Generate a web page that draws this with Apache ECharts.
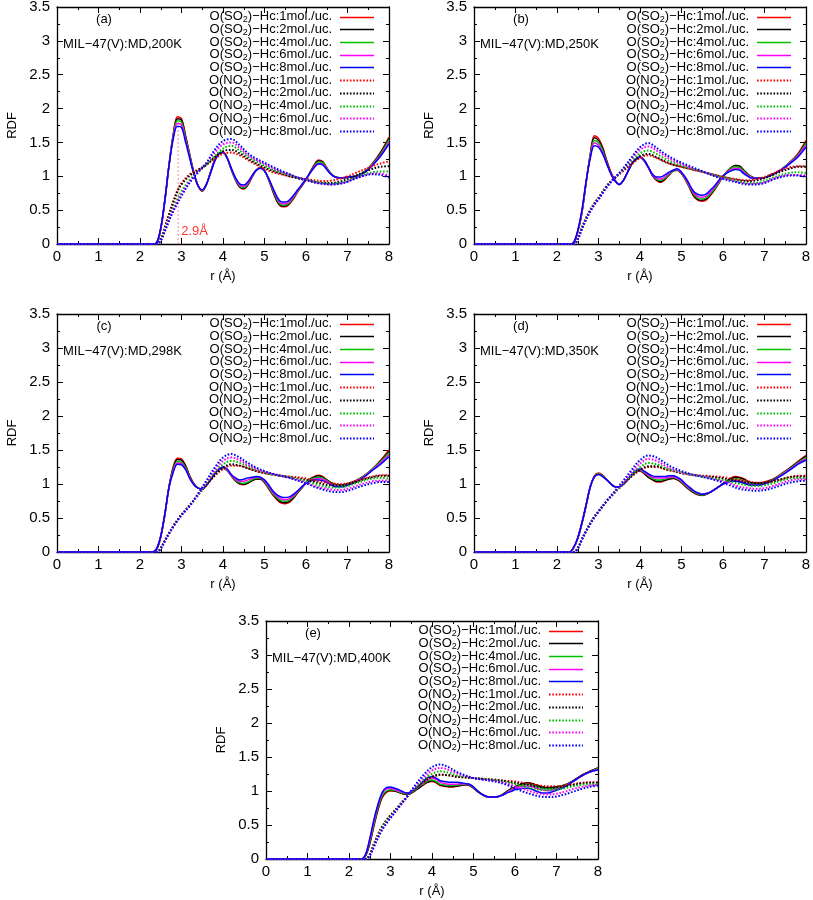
<!DOCTYPE html>
<html><head><meta charset="utf-8">
<script src="https://cdn.jsdelivr.net/npm/echarts/dist/echarts.min.js"></script>
<style>html,body{margin:0;padding:0;background:#fff}#c{width:813px;height:900px}</style>
</head><body><div id="c"></div>
<script>
// ---------- axis setup ----------
const xMin = 0, xMax = 8, xStep = 1;
const yMin = 0, yMax = 3.5, yStep = 0.5;
// ---------- r grids (Å) ----------
const rSolid = [0,2.3,2.4,2.5,2.6,2.7,2.8,2.9,3.0,3.1,3.2,3.3,3.4,3.5,3.6,3.7,3.8,3.9,4.0,4.1,4.2,4.3,4.4,4.5,4.6,4.7,4.8,4.9,5.0,5.1,5.2,5.3,5.4,5.5,5.6,5.7,5.8,5.9,6.0,6.1,6.2,6.3,6.4,6.5,6.6,6.7,6.8,6.9,7.0,7.2,7.4,7.6,7.8,8.0];
const rDotted = [0,2.4,2.5,2.6,2.7,2.8,2.9,3.0,3.2,3.4,3.6,3.8,4.0,4.2,4.4,4.6,4.8,5.0,5.2,5.4,5.6,5.8,6.0,6.2,6.4,6.6,6.8,7.0,7.2,7.4,7.6,7.8,8.0];
const loadings = ['1','2','4','6','8'];
const lineColors = ['#ff0000','#000000','#00c000','#ff00ff','#0000ff'];
const panelTags = ['(a)','(b)','(c)','(d)','(e)'];
const panelTitles = ['MIL\u221247(V):MD,200K','MIL\u221247(V):MD,250K','MIL\u221247(V):MD,298K','MIL\u221247(V):MD,350K','MIL\u221247(V):MD,400K'];
// ---------- (a) 200K ----------
const a_SO2_1 = [0,0,0.01,0.22,0.64,1.17,1.62,1.88,1.85,1.6,1.32,1.05,0.86,0.78,0.88,1.06,1.24,1.34,1.35,1.27,1.1,0.95,0.84,0.81,0.87,0.99,1.09,1.13,1.08,0.95,0.78,0.63,0.555,0.55,0.59,0.67,0.77,0.86,0.95,1.06,1.17,1.24,1.22,1.13,1.04,0.99,0.98,0.98,0.985,1.0,1.06,1.19,1.36,1.58];
const a_SO2_2 = [0,0,0.01,0.22,0.64,1.17,1.6,1.85,1.83,1.58,1.31,1.05,0.86,0.785,0.88,1.06,1.24,1.34,1.355,1.27,1.1,0.95,0.845,0.82,0.88,0.99,1.09,1.13,1.08,0.95,0.79,0.64,0.565,0.56,0.6,0.68,0.78,0.86,0.95,1.06,1.16,1.23,1.21,1.12,1.04,0.99,0.98,0.98,0.985,1.0,1.06,1.18,1.35,1.56];
const a_SO2_4 = [0,0,0.01,0.23,0.65,1.17,1.59,1.82,1.8,1.56,1.3,1.04,0.86,0.79,0.88,1.06,1.23,1.34,1.355,1.27,1.11,0.96,0.855,0.83,0.89,1.0,1.09,1.125,1.08,0.96,0.8,0.66,0.58,0.575,0.61,0.69,0.78,0.87,0.955,1.055,1.15,1.21,1.2,1.12,1.04,0.99,0.98,0.98,0.985,1.0,1.06,1.18,1.33,1.54];
const a_SO2_6 = [0,0,0.02,0.23,0.65,1.16,1.57,1.78,1.76,1.53,1.28,1.04,0.86,0.795,0.88,1.05,1.23,1.33,1.35,1.27,1.11,0.97,0.87,0.85,0.9,1.0,1.09,1.12,1.08,0.96,0.82,0.68,0.6,0.595,0.63,0.7,0.79,0.87,0.955,1.05,1.14,1.19,1.18,1.11,1.03,0.99,0.98,0.98,0.99,1.0,1.05,1.17,1.31,1.51];
const a_SO2_8 = [0,0,0.02,0.24,0.66,1.16,1.55,1.74,1.72,1.5,1.26,1.03,0.86,0.8,0.88,1.05,1.22,1.33,1.35,1.27,1.12,0.98,0.89,0.87,0.92,1.01,1.09,1.12,1.08,0.97,0.83,0.7,0.625,0.62,0.65,0.72,0.8,0.88,0.96,1.05,1.13,1.18,1.17,1.1,1.03,0.99,0.98,0.98,0.99,1.0,1.05,1.16,1.3,1.48];
const a_NO2_1 = [0,0,0.07,0.25,0.45,0.63,0.79,0.9,1.03,1.1,1.17,1.26,1.33,1.35,1.31,1.24,1.17,1.11,1.06,1.03,1.0,0.98,0.96,0.94,0.93,0.935,0.96,1.0,1.05,1.1,1.15,1.19,1.22];
const a_NO2_2 = [0,0,0.07,0.24,0.43,0.61,0.77,0.88,1.01,1.09,1.17,1.28,1.37,1.39,1.34,1.26,1.19,1.13,1.08,1.04,1.0,0.97,0.94,0.92,0.9,0.9,0.92,0.96,1.01,1.06,1.11,1.14,1.15];
const a_NO2_4 = [0,0,0.06,0.21,0.38,0.54,0.67,0.78,0.95,1.06,1.17,1.3,1.41,1.45,1.38,1.29,1.22,1.16,1.1,1.06,1.02,0.98,0.95,0.92,0.9,0.89,0.9,0.93,0.98,1.03,1.06,1.07,1.07];
const a_NO2_6 = [0,0,0.05,0.2,0.36,0.51,0.63,0.74,0.93,1.06,1.19,1.35,1.47,1.5,1.42,1.31,1.24,1.18,1.12,1.07,1.03,0.98,0.95,0.91,0.89,0.88,0.89,0.92,0.97,1.01,1.04,1.04,1.01];
const a_NO2_8 = [0,0,0.05,0.19,0.34,0.48,0.6,0.71,0.91,1.06,1.2,1.39,1.52,1.55,1.46,1.34,1.26,1.2,1.14,1.08,1.03,0.98,0.95,0.91,0.89,0.88,0.89,0.92,0.97,1.01,1.03,1.02,0.98];
// ---------- (b) 250K ----------
const b_SO2_1 = [0,0,0.02,0.18,0.46,0.9,1.32,1.6,1.56,1.43,1.23,1.06,0.94,0.88,0.94,1.06,1.18,1.25,1.28,1.23,1.13,1.01,0.94,0.91,0.95,1.02,1.08,1.09,1.04,0.94,0.82,0.7,0.645,0.63,0.65,0.72,0.8,0.9,1.0,1.07,1.13,1.16,1.15,1.09,1.03,0.99,0.97,0.97,0.98,1.03,1.1,1.2,1.33,1.53];
const b_SO2_2 = [0,0,0.02,0.18,0.46,0.9,1.31,1.57,1.53,1.41,1.22,1.05,0.94,0.88,0.94,1.06,1.18,1.25,1.28,1.23,1.13,1.01,0.945,0.92,0.96,1.02,1.08,1.09,1.04,0.95,0.83,0.71,0.655,0.645,0.665,0.73,0.81,0.9,1.0,1.07,1.13,1.16,1.15,1.09,1.03,0.99,0.97,0.97,0.98,1.03,1.1,1.2,1.32,1.51];
const b_SO2_4 = [0,0,0.02,0.19,0.47,0.9,1.3,1.53,1.5,1.38,1.2,1.04,0.93,0.88,0.94,1.06,1.18,1.25,1.28,1.23,1.13,1.02,0.955,0.94,0.97,1.03,1.08,1.095,1.045,0.955,0.84,0.73,0.675,0.665,0.685,0.745,0.82,0.91,1.0,1.065,1.12,1.14,1.13,1.08,1.02,0.985,0.97,0.97,0.98,1.03,1.1,1.2,1.31,1.49];
const b_SO2_6 = [0,0,0.02,0.19,0.48,0.91,1.28,1.49,1.46,1.35,1.19,1.04,0.93,0.88,0.94,1.06,1.18,1.25,1.28,1.23,1.13,1.02,0.97,0.96,0.99,1.04,1.09,1.1,1.05,0.965,0.85,0.75,0.7,0.69,0.71,0.77,0.84,0.92,1.0,1.06,1.1,1.12,1.11,1.06,1.01,0.98,0.97,0.97,0.98,1.03,1.1,1.19,1.3,1.46];
const b_SO2_8 = [0,0,0.02,0.2,0.5,0.92,1.26,1.45,1.43,1.33,1.18,1.03,0.93,0.88,0.94,1.06,1.18,1.25,1.29,1.24,1.14,1.03,0.99,0.99,1.02,1.06,1.09,1.11,1.06,0.98,0.87,0.77,0.73,0.72,0.74,0.8,0.86,0.94,1.0,1.05,1.08,1.1,1.09,1.04,1.0,0.97,0.97,0.97,0.98,1.03,1.09,1.18,1.28,1.43];
const b_NO2_1 = [0,0,0.08,0.24,0.38,0.5,0.6,0.68,0.86,0.98,1.08,1.18,1.27,1.31,1.27,1.21,1.17,1.14,1.11,1.08,1.05,1.02,0.99,0.97,0.95,0.94,0.96,0.99,1.04,1.09,1.13,1.15,1.15];
const b_NO2_2 = [0,0,0.08,0.24,0.38,0.5,0.6,0.68,0.86,0.98,1.09,1.2,1.3,1.33,1.28,1.22,1.17,1.14,1.11,1.08,1.05,1.02,0.99,0.96,0.94,0.93,0.94,0.97,1.02,1.07,1.11,1.14,1.14];
const b_NO2_4 = [0,0,0.07,0.23,0.37,0.49,0.59,0.67,0.85,0.98,1.1,1.23,1.34,1.38,1.33,1.26,1.2,1.16,1.12,1.09,1.05,1.01,0.98,0.95,0.92,0.9,0.9,0.93,0.98,1.02,1.05,1.06,1.05];
const b_NO2_6 = [0,0,0.07,0.22,0.36,0.48,0.58,0.66,0.84,0.98,1.11,1.26,1.39,1.44,1.38,1.3,1.23,1.18,1.13,1.09,1.05,1.01,0.97,0.94,0.91,0.89,0.89,0.91,0.96,1.0,1.02,1.02,1.01];
const b_NO2_8 = [0,0,0.07,0.22,0.36,0.48,0.58,0.66,0.84,0.98,1.12,1.28,1.43,1.49,1.42,1.33,1.26,1.2,1.15,1.1,1.05,1.0,0.96,0.93,0.9,0.88,0.88,0.9,0.95,0.99,1.01,1.01,0.99];
// ---------- (c) 298K ----------
const c_SO2_1 = [0,0,0.04,0.22,0.55,0.97,1.25,1.38,1.37,1.27,1.12,1.0,0.94,0.93,0.98,1.06,1.15,1.21,1.23,1.2,1.12,1.05,1.0,0.99,1.01,1.05,1.07,1.07,1.02,0.93,0.84,0.77,0.72,0.71,0.73,0.79,0.87,0.94,1.02,1.07,1.11,1.13,1.11,1.06,1.02,1.0,0.98,0.98,1.0,1.05,1.12,1.22,1.35,1.5];
const c_SO2_2 = [0,0,0.04,0.22,0.55,0.96,1.23,1.36,1.35,1.26,1.11,1.0,0.94,0.93,0.98,1.06,1.15,1.21,1.23,1.2,1.12,1.05,1.005,0.995,1.015,1.05,1.075,1.075,1.025,0.94,0.85,0.78,0.735,0.725,0.745,0.8,0.875,0.945,1.02,1.07,1.1,1.12,1.1,1.06,1.02,0.995,0.98,0.98,1.0,1.05,1.12,1.22,1.34,1.48];
const c_SO2_4 = [0,0,0.04,0.23,0.56,0.96,1.21,1.33,1.32,1.24,1.1,0.99,0.94,0.93,0.98,1.06,1.15,1.21,1.235,1.2,1.13,1.06,1.02,1.01,1.03,1.065,1.085,1.085,1.035,0.95,0.86,0.8,0.755,0.745,0.765,0.815,0.885,0.95,1.015,1.06,1.09,1.1,1.09,1.05,1.01,0.99,0.975,0.975,0.99,1.04,1.12,1.22,1.33,1.46];
const c_SO2_6 = [0,0,0.05,0.23,0.56,0.95,1.19,1.31,1.3,1.22,1.09,0.99,0.94,0.93,0.98,1.06,1.15,1.21,1.24,1.21,1.13,1.07,1.04,1.04,1.06,1.085,1.1,1.095,1.045,0.97,0.88,0.82,0.78,0.77,0.785,0.83,0.895,0.955,1.01,1.05,1.075,1.08,1.07,1.04,1.0,0.975,0.965,0.965,0.985,1.04,1.11,1.21,1.31,1.43];
const c_SO2_8 = [0,0,0.05,0.24,0.57,0.95,1.17,1.29,1.28,1.21,1.08,0.99,0.94,0.93,0.98,1.06,1.15,1.22,1.25,1.22,1.14,1.09,1.06,1.07,1.09,1.1,1.11,1.1,1.06,0.99,0.9,0.84,0.81,0.8,0.81,0.85,0.9,0.96,1.01,1.04,1.06,1.06,1.05,1.02,0.99,0.96,0.96,0.96,0.98,1.03,1.1,1.2,1.29,1.4];
const c_NO2_1 = [0,0,0.06,0.17,0.28,0.38,0.47,0.55,0.69,0.84,0.99,1.12,1.22,1.27,1.27,1.23,1.19,1.16,1.14,1.12,1.11,1.1,1.08,1.05,1.03,1.01,1.0,1.01,1.04,1.08,1.11,1.13,1.13];
const c_NO2_2 = [0,0,0.06,0.17,0.28,0.38,0.47,0.55,0.69,0.84,0.99,1.13,1.24,1.29,1.27,1.23,1.19,1.16,1.14,1.12,1.1,1.08,1.06,1.03,1.0,0.98,0.98,1.0,1.03,1.07,1.1,1.12,1.12];
const c_NO2_4 = [0,0,0.06,0.16,0.27,0.37,0.46,0.54,0.68,0.84,1.01,1.17,1.29,1.34,1.31,1.26,1.21,1.17,1.14,1.12,1.1,1.07,1.04,1.0,0.97,0.95,0.95,0.97,1.01,1.05,1.08,1.09,1.08];
const c_NO2_6 = [0,0,0.05,0.16,0.27,0.37,0.46,0.54,0.68,0.85,1.03,1.2,1.34,1.39,1.35,1.28,1.22,1.18,1.15,1.12,1.09,1.06,1.02,0.97,0.94,0.92,0.91,0.93,0.97,1.01,1.04,1.05,1.05];
const c_NO2_8 = [0,0,0.05,0.16,0.27,0.37,0.46,0.54,0.68,0.86,1.05,1.24,1.39,1.44,1.39,1.31,1.24,1.19,1.15,1.12,1.09,1.05,1.01,0.96,0.92,0.89,0.88,0.9,0.94,0.98,1.01,1.03,1.03];
// ---------- (d) 350K ----------
const d_SO2_1 = [0,0,0.06,0.2,0.42,0.68,0.95,1.12,1.16,1.13,1.06,1.0,0.96,0.96,1.0,1.06,1.13,1.18,1.19,1.15,1.1,1.06,1.03,1.03,1.05,1.07,1.08,1.06,1.02,0.96,0.91,0.87,0.84,0.83,0.85,0.88,0.92,0.96,1.01,1.05,1.09,1.11,1.1,1.08,1.04,1.02,1.02,1.02,1.03,1.07,1.15,1.23,1.33,1.42];
const d_SO2_2 = [0,0,0.06,0.2,0.42,0.68,0.95,1.11,1.15,1.12,1.06,1.0,0.96,0.96,1.0,1.06,1.13,1.18,1.195,1.16,1.1,1.065,1.04,1.04,1.055,1.075,1.085,1.065,1.025,0.965,0.915,0.875,0.845,0.835,0.85,0.88,0.92,0.96,1.005,1.045,1.08,1.1,1.09,1.07,1.035,1.015,1.01,1.01,1.02,1.065,1.14,1.23,1.32,1.41];
const d_SO2_4 = [0,0,0.06,0.2,0.42,0.68,0.95,1.11,1.15,1.12,1.06,1.0,0.96,0.96,1.0,1.06,1.13,1.185,1.2,1.17,1.12,1.08,1.06,1.06,1.07,1.09,1.095,1.075,1.035,0.975,0.925,0.885,0.855,0.84,0.855,0.885,0.92,0.96,1.0,1.035,1.065,1.08,1.07,1.05,1.02,1.0,0.995,0.995,1.01,1.06,1.14,1.22,1.31,1.39];
const d_SO2_6 = [0,0,0.06,0.21,0.43,0.69,0.95,1.1,1.14,1.11,1.06,1.0,0.96,0.96,1.0,1.06,1.14,1.19,1.21,1.18,1.13,1.1,1.09,1.09,1.09,1.1,1.105,1.085,1.045,0.985,0.935,0.895,0.865,0.85,0.86,0.885,0.92,0.96,0.995,1.025,1.045,1.055,1.045,1.03,1.0,0.985,0.98,0.985,1.0,1.05,1.13,1.21,1.3,1.37];
const d_SO2_8 = [0,0,0.07,0.21,0.43,0.69,0.96,1.1,1.14,1.11,1.06,1.0,0.96,0.96,1.0,1.07,1.14,1.2,1.22,1.19,1.15,1.12,1.11,1.11,1.11,1.12,1.12,1.1,1.06,1.0,0.95,0.9,0.87,0.85,0.86,0.88,0.92,0.96,1.0,1.02,1.04,1.04,1.03,1.01,0.99,0.98,0.98,0.99,1.0,1.05,1.12,1.2,1.29,1.35];
const d_NO2_1 = [0,0,0.06,0.19,0.31,0.42,0.52,0.6,0.75,0.88,1.0,1.11,1.2,1.25,1.25,1.22,1.19,1.16,1.14,1.13,1.12,1.11,1.1,1.08,1.06,1.04,1.02,1.02,1.04,1.07,1.1,1.12,1.12];
const d_NO2_2 = [0,0,0.06,0.19,0.31,0.42,0.52,0.6,0.75,0.88,1.0,1.12,1.21,1.26,1.26,1.22,1.19,1.16,1.14,1.12,1.11,1.1,1.08,1.06,1.04,1.02,1.01,1.02,1.04,1.07,1.1,1.11,1.11];
const d_NO2_4 = [0,0,0.06,0.19,0.31,0.42,0.52,0.6,0.75,0.88,1.01,1.14,1.25,1.31,1.29,1.24,1.2,1.17,1.14,1.12,1.1,1.08,1.06,1.03,1.0,0.98,0.97,0.98,1.01,1.05,1.08,1.09,1.09];
const d_NO2_6 = [0,0,0.05,0.18,0.3,0.41,0.51,0.59,0.75,0.89,1.03,1.17,1.3,1.37,1.34,1.27,1.21,1.17,1.14,1.12,1.1,1.07,1.04,1.0,0.96,0.94,0.93,0.94,0.97,1.01,1.05,1.07,1.07];
const d_NO2_8 = [0,0,0.05,0.18,0.3,0.41,0.51,0.59,0.75,0.9,1.05,1.21,1.35,1.42,1.39,1.31,1.24,1.19,1.15,1.12,1.09,1.06,1.02,0.97,0.93,0.91,0.9,0.91,0.94,0.98,1.02,1.04,1.05];
// ---------- (e) 400K ----------
const e_SO2_1 = [0,0,0.05,0.22,0.48,0.72,0.9,0.98,1.0,1.0,0.98,0.96,0.95,0.97,1.01,1.05,1.09,1.13,1.14,1.12,1.08,1.07,1.06,1.06,1.07,1.08,1.09,1.08,1.04,0.99,0.95,0.92,0.91,0.91,0.92,0.95,0.99,1.03,1.06,1.09,1.11,1.12,1.11,1.09,1.07,1.05,1.05,1.05,1.06,1.09,1.15,1.23,1.29,1.34];
const e_SO2_2 = [0,0,0.05,0.23,0.5,0.74,0.92,0.99,1.01,1.0,0.98,0.96,0.955,0.97,1.01,1.05,1.1,1.13,1.15,1.13,1.09,1.075,1.065,1.065,1.075,1.085,1.095,1.085,1.045,0.99,0.95,0.92,0.91,0.91,0.92,0.95,0.99,1.03,1.06,1.09,1.11,1.12,1.11,1.09,1.07,1.05,1.045,1.05,1.06,1.09,1.15,1.23,1.29,1.34];
const e_SO2_4 = [0,0,0.06,0.25,0.52,0.76,0.93,1.0,1.02,1.01,0.99,0.97,0.96,0.98,1.02,1.07,1.11,1.15,1.16,1.14,1.1,1.09,1.08,1.08,1.085,1.095,1.1,1.09,1.05,1.0,0.955,0.925,0.91,0.91,0.92,0.945,0.98,1.02,1.05,1.075,1.09,1.1,1.09,1.07,1.05,1.035,1.03,1.035,1.045,1.08,1.14,1.22,1.28,1.33];
const e_SO2_6 = [0,0,0.07,0.28,0.55,0.79,0.96,1.03,1.04,1.02,1.0,0.98,0.97,0.99,1.03,1.08,1.13,1.17,1.19,1.17,1.13,1.11,1.1,1.1,1.1,1.105,1.105,1.095,1.055,1.0,0.955,0.925,0.91,0.91,0.92,0.94,0.975,1.01,1.04,1.06,1.07,1.075,1.065,1.045,1.025,1.01,1.005,1.015,1.03,1.07,1.14,1.22,1.28,1.32];
const e_SO2_8 = [0,0,0.07,0.3,0.58,0.81,0.98,1.05,1.06,1.04,1.02,0.99,0.97,0.99,1.04,1.09,1.15,1.2,1.21,1.19,1.15,1.14,1.13,1.13,1.13,1.12,1.11,1.1,1.06,1.0,0.955,0.925,0.91,0.91,0.92,0.94,0.97,0.99,1.02,1.03,1.04,1.04,1.03,1.0,0.98,0.97,0.97,0.99,1.01,1.06,1.14,1.22,1.28,1.31];
const e_NO2_1 = [0,0,0.07,0.22,0.36,0.48,0.57,0.64,0.78,0.92,1.04,1.13,1.2,1.24,1.23,1.21,1.2,1.19,1.18,1.17,1.16,1.15,1.14,1.12,1.1,1.08,1.07,1.07,1.08,1.1,1.12,1.13,1.13];
const e_NO2_2 = [0,0,0.07,0.22,0.36,0.48,0.57,0.64,0.78,0.92,1.04,1.14,1.21,1.24,1.23,1.21,1.2,1.19,1.18,1.17,1.16,1.14,1.12,1.1,1.08,1.06,1.05,1.05,1.07,1.09,1.11,1.12,1.12];
const e_NO2_4 = [0,0,0.06,0.2,0.34,0.46,0.55,0.62,0.77,0.91,1.05,1.17,1.25,1.29,1.27,1.23,1.21,1.19,1.18,1.17,1.15,1.13,1.1,1.07,1.04,1.02,1.01,1.02,1.04,1.07,1.09,1.1,1.1];
const e_NO2_6 = [0,0,0.05,0.18,0.32,0.44,0.53,0.61,0.76,0.91,1.07,1.2,1.3,1.34,1.31,1.26,1.22,1.19,1.17,1.16,1.14,1.11,1.07,1.03,0.99,0.96,0.95,0.96,0.99,1.03,1.06,1.08,1.09];
const e_NO2_8 = [0,0,0.05,0.18,0.31,0.43,0.52,0.6,0.76,0.92,1.09,1.24,1.35,1.39,1.35,1.28,1.23,1.19,1.17,1.15,1.13,1.09,1.04,0.99,0.95,0.92,0.91,0.92,0.95,0.99,1.03,1.06,1.08];
// ---------- annotation in (a) ----------
const peakMarkR = 2.92, peakMarkTop = 1.88, peakLabelY = 0.18, peakLabelText = '2.9\u00c5';

const solidSets = [
  [a_SO2_1,a_SO2_2,a_SO2_4,a_SO2_6,a_SO2_8],
  [b_SO2_1,b_SO2_2,b_SO2_4,b_SO2_6,b_SO2_8],
  [c_SO2_1,c_SO2_2,c_SO2_4,c_SO2_6,c_SO2_8],
  [d_SO2_1,d_SO2_2,d_SO2_4,d_SO2_6,d_SO2_8],
  [e_SO2_1,e_SO2_2,e_SO2_4,e_SO2_6,e_SO2_8]
];
const dottedSets = [
  [a_NO2_1,a_NO2_2,a_NO2_4,a_NO2_6,a_NO2_8],
  [b_NO2_1,b_NO2_2,b_NO2_4,b_NO2_6,b_NO2_8],
  [c_NO2_1,c_NO2_2,c_NO2_4,c_NO2_6,c_NO2_8],
  [d_NO2_1,d_NO2_2,d_NO2_4,d_NO2_6,d_NO2_8],
  [e_NO2_1,e_NO2_2,e_NO2_4,e_NO2_6,e_NO2_8]
];

// ---------- layout ----------
const grids = [
  {left:57, top:7, width:332, height:237},
  {left:474, top:7, width:332, height:237},
  {left:57, top:314, width:332, height:238},
  {left:474, top:314, width:332, height:238},
  {left:266, top:621, width:332, height:238}
];
const FONT = '"Liberation Sans", Arial, Helvetica, sans-serif';
const DOT = [1.6, 1.7];

const option = {animation:false, backgroundColor:'#fff', grid:[], xAxis:[], yAxis:[], series:[], graphic:[]};
const tick = {show:true, inside:true, length:6, lineStyle:{color:'#000', width:1}};
const minor = {show:true, splitNumber:2, length:3, lineStyle:{color:'#000', width:1}};
const aLine = {show:true, onZero:false, lineStyle:{color:'#000', width:1.3}};
const tickLbl = {color:'#000', fontSize:15, fontFamily:FONT};
const nameLbl = {color:'#000', fontSize:13, fontFamily:FONT};

grids.forEach((g, i) => {
  option.grid.push({left:g.left, top:g.top, width:g.width, height:g.height, containLabel:false, outerBoundsMode:'none'});
  option.xAxis.push({type:'value', gridIndex:i, min:xMin, max:xMax, interval:xStep, position:'bottom',
    axisLine:aLine, axisTick:tick, minorTick:minor, splitLine:{show:false}, minorSplitLine:{show:false},
    axisLabel:Object.assign({margin:5}, tickLbl),
    name:'r (\u00c5)', nameLocation:'middle', nameGap:26, nameTextStyle:nameLbl, nameMoveOverlap:false});
  option.xAxis.push({type:'value', gridIndex:i, min:xMin, max:xMax, interval:xStep, position:'top',
    axisLine:aLine, axisTick:tick, minorTick:minor, splitLine:{show:false}, axisLabel:{show:false}});
  option.yAxis.push({type:'value', gridIndex:i, min:yMin, max:yMax, interval:yStep, position:'left',
    axisLine:aLine, axisTick:tick, minorTick:minor, splitLine:{show:false},
    axisLabel:Object.assign({margin:7}, tickLbl),
    name:'RDF', nameLocation:'middle', nameGap:38, nameTextStyle:nameLbl, nameMoveOverlap:false});
  option.yAxis.push({type:'value', gridIndex:i, min:yMin, max:yMax, interval:yStep, position:'right',
    axisLine:aLine, axisTick:tick, minorTick:minor, splitLine:{show:false}, axisLabel:{show:false}});

  solidSets[i].forEach((arr, k) => {
    const nm = 'O(SO\u2082)\u2212Hc:' + loadings[k] + 'mol./uc.';
    option.series.push({type:'line', name:nm, xAxisIndex:2*i, yAxisIndex:2*i,
      data: rSolid.map((r, j) => [r, arr[j]]), symbol:'none', showSymbol:false, smooth:0.35, silent:true,
      lineStyle:{color:lineColors[k], width:1.5}, itemStyle:{color:lineColors[k]}});
  });
  dottedSets[i].forEach((arr, k) => {
    const nm = 'O(NO\u2082)\u2212Hc:' + loadings[k] + 'mol./uc.';
    option.series.push({type:'line', name:nm, xAxisIndex:2*i, yAxisIndex:2*i,
      data: rDotted.map((r, j) => [r, arr[j]]), symbol:'none', showSymbol:false, smooth:0.35, silent:true,
      lineStyle:{color:lineColors[k], width:2, type:DOT}, itemStyle:{color:lineColors[k]}});
  });

  // panel tag & title
  option.graphic.push({type:'text', x:g.left+47, y:g.top+12, silent:true,
    style:{text:panelTags[i], fontSize:13, fontFamily:FONT, fill:'#000', align:'center', verticalAlign:'middle', textAlign:'center', textVerticalAlign:'middle'}});
  option.graphic.push({type:'text', x:g.left+6, y:g.top+37, silent:true,
    style:{text:panelTitles[i], fontSize:13, fontFamily:FONT, fill:'#000', align:'left', verticalAlign:'middle', textAlign:'left', textVerticalAlign:'middle'}});
  // legend (gnuplot key style)
  const right = g.left + g.width;
  for (let row = 0; row < 10; row++) {
    const k = row % 5, isNO2 = row >= 5;
    const y = g.top + 9.5 + row * 12.72;
    const txt = (isNO2 ? 'O(NO{s|2})' : 'O(SO{s|2})') + '\u2212Hc:' + loadings[k] + 'mol./uc.';
    option.graphic.push({type:'text', x:right-57, y:y, silent:true,
      style:{text:txt, fontSize:13, fontFamily:FONT, fill:'#000', align:'right', verticalAlign:'middle', textAlign:'right', textVerticalAlign:'middle',
        rich:{s:{fontSize:9, fontFamily:FONT, fill:'#000', padding:[6,0,0,0]}}}});
    option.graphic.push({type:'line', silent:true,
      shape:{x1:right-49, y1:Math.round(y)+0.5, x2:right-15, y2:Math.round(y)+0.5},
      style:{stroke:lineColors[k], lineWidth:isNO2 ? 2 : 1.5, lineDash:isNO2 ? DOT : null}});
  }
});

// 2.9 Å marker in (a)
option.series.push({type:'line', name:'marker', xAxisIndex:0, yAxisIndex:0, silent:true, symbol:'none',
  data:[[peakMarkR, 0], [peakMarkR, peakMarkTop]], lineStyle:{color:'#ff9a9a', width:1.2, type:[2,2]}, z:1});
option.series.push({type:'scatter', name:'markerLabel', xAxisIndex:0, yAxisIndex:0, silent:true, symbolSize:0,
  data:[[peakMarkR, peakLabelY]],
  label:{show:true, position:'right', distance:3, formatter:peakLabelText, color:'#ff0000', fontSize:13, fontFamily:FONT}});

const chart = echarts.init(document.getElementById('c'), null, {renderer:'canvas'});
chart.setOption(option);
</script>
</body></html>
